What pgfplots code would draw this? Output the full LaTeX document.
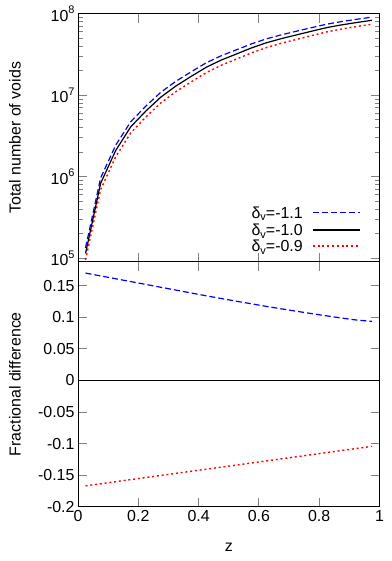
\documentclass[border=0pt]{standalone}
\usepackage{fontspec}
\setmainfont{Liberation Sans}
\usepackage{pgfplots}
\usepackage{pgfplotstable}
\pgfplotsset{compat=1.18}

% total number of voids for three thresholds
\pgfplotstableread{
z      blue      black    red
0.025  1.346e5   1.15e5   0.958e5
0.075  9.67e5    8.3e5    6.94e5
0.125  2.44e6    2.1e6    1.763e6
0.175  4.74e6    4.1e6    3.456e6
0.225  7.37e6    6.4e6    5.42e6
0.275  1.090e7   9.5e6    8.07e6
0.325  1.486e7   1.3e7    1.109e7
0.375  1.935e7   1.7e7    1.455e7
0.425  2.495e7   2.2e7    1.891e7
0.475  3.05e7    2.7e7    2.329e7
0.525  3.60e7    3.2e7    2.771e7
0.575  4.26e7    3.8e7    3.303e7
0.625  4.916e7   4.4e7    3.839e7
0.675  5.51e7    4.95e7   4.335e7
0.725  6.10e7    5.5e7    4.835e7
0.775  6.745e7   6.1e7    5.383e7
0.825  7.44e7    6.75e7   5.98e7
0.875  8.02e7    7.3e7    6.49e7
0.925  8.545e7   7.8e7    6.96e7
0.975  9.076e7   8.3e7    7.43e7
}\voids

% fractional difference relative to delta_v=-1.0
\pgfplotstableread{
z      fblue    fred
0.025  0.1700  -0.1670
0.075  0.1655  -0.1637
0.125  0.1610  -0.1604
0.175  0.1565  -0.1571
0.225  0.1520  -0.1538
0.275  0.1475  -0.1505
0.325  0.1430  -0.1472
0.375  0.1385  -0.1439
0.425  0.1340  -0.1406
0.475  0.1297  -0.1374
0.525  0.1255  -0.1341
0.575  0.1213  -0.1308
0.625  0.1172  -0.1275
0.675  0.1133  -0.1242
0.725  0.1095  -0.1209
0.775  0.1058  -0.1176
0.825  0.1022  -0.1143
0.875  0.0987  -0.1110
0.925  0.0955  -0.1077
0.975  0.0935  -0.1045
}\fracdiff

\tikzset{
  dashblue/.style={draw=blue, line width=1.2bp, dash pattern=on 6bp off 3bp},
  solidblack/.style={draw=black, line width=1.2bp},
  dotred/.style={draw=red, line width=1.4bp, dash pattern=on 2bp off 2.8bp},
}
\newcommand{\lowv}[1]{\raisebox{-0.35ex}{\fontsize{11}{11}\selectfont #1}}
\newcommand{\highv}[1]{\raisebox{0.85ex}{\fontsize{11}{11}\selectfont #1}}

\begin{document}
\begin{tikzpicture}
\path[use as bounding box] (0bp,0bp) rectangle (392bp,561bp);
\pgfplotsset{gp/.style={
  scale only axis, width=301.5bp,
  xmin=0, xmax=1, xtick={0,0.2,...,1},
  axis line style={line width=1bp},
  tick style={line width=0.9bp},
  major tick length=9bp, minor tick length=5bp,
  tick align=inside,
  font=\fontsize{16}{19}\selectfont,
  /pgf/number format/assume math mode=true,
  every axis y label/.style={at={(axis description cs:-0.209,0.5)},rotate=90,anchor=center},
}}
\begin{axis}[gp, at={(78bp,299.3bp)}, anchor=south west, height=248bp,
  ymode=log, ymin=9.1e4, ymax=1e8,
  xticklabels={},
  ytick={1e5,1e6,1e7,1e8},
  yticklabels={10\highv{5},10\highv{6},10\highv{7},10\highv{8}},
  ylabel={Total number of voids},
]
\addplot[dashblue] table[x=z,y=blue] {\voids};
\addplot[solidblack] table[x=z,y=black] {\voids};
\addplot[dotred] table[x=z,y=red] {\voids};
% key, drawn by hand: samples first, then the texts
\draw[dashblue] (axis description cs:0.779,0.199) -- (axis description cs:0.935,0.199);
\draw[solidblack] (axis description cs:0.779,0.128) -- (axis description cs:0.935,0.128);
\draw[dotred] (axis description cs:0.779,0.063) -- (axis description cs:0.935,0.063);
\node[anchor=base east, inner sep=0pt, font=\fontsize{16}{17}\selectfont]
  at (axis description cs:0.746,0.176) {δ\lowv{v}=-1.1};
\node[anchor=base east, inner sep=0pt, font=\fontsize{16}{17}\selectfont]
  at (axis description cs:0.746,0.105) {δ\lowv{v}=-1.0};
\node[anchor=base east, inner sep=0pt, font=\fontsize{16}{17}\selectfont]
  at (axis description cs:0.746,0.040) {δ\lowv{v}=-0.9};
\end{axis}
\begin{axis}[gp, at={(78bp,54.3bp)}, anchor=south west, height=245bp,
  ymin=-0.2, ymax=0.188,
  ytick={-0.2,-0.15,...,0.16},
  scaled y ticks=false,
  yticklabel style={/pgf/number format/fixed, /pgf/number format/precision=2},
  ylabel={Fractional difference},
  xlabel={z},
  every axis x label/.style={at={(axis description cs:0.5,-0.165)},anchor=center},
]
\addplot[solidblack] coordinates {(0,0) (1,0)};
\addplot[dashblue] table[x=z,y=fblue] {\fracdiff};
\addplot[dotred] table[x=z,y=fred] {\fracdiff};
\end{axis}
\end{tikzpicture}
\end{document}
